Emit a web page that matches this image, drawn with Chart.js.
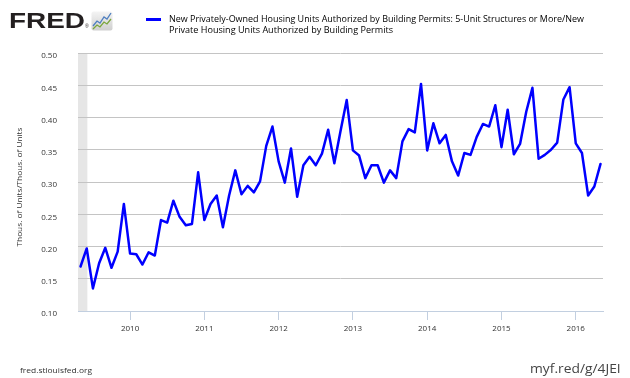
<!DOCTYPE html>
<html>
<head>
<meta charset="utf-8">
<script src="https://cdn.jsdelivr.net/npm/chart.js@4.4.1/dist/chart.umd.min.js"></script>
<style>
  html, body { margin: 0; padding: 0; background: #fff; }
  #wrap { position: relative; width: 630px; height: 378px; overflow: hidden; background: #fff; }
  #c { position: absolute; left: 0; top: 0; }
  .t { position: absolute; white-space: nowrap; line-height: 1; transform-origin: 0 0; }
</style>
</head>
<body>
<div id="wrap">
  <canvas id="c" width="630" height="378"></canvas>
  <div class="t fit" id="logo" data-w="76" style="left:9px; top:9.7px; font-family:'Liberation Sans', Arial, sans-serif; font-weight:bold; font-size:22px; color:#231f20;">FRED</div>
  <div class="t" style="left:85px; top:24px; font-family:'Liberation Sans', Arial, sans-serif; font-size:5px; color:#231f20;">®</div>
  <svg style="position:absolute; left:90.5px; top:10.5px;" width="22" height="20" viewBox="0 0 22 20">
    <defs>
      <linearGradient id="g" x1="0" y1="0" x2="0" y2="1">
        <stop offset="0" stop-color="#f4f4f4"/>
        <stop offset="1" stop-color="#cfcfcf"/>
      </linearGradient>
    </defs>
    <rect x="0.5" y="0.5" width="21" height="19" rx="2" fill="url(#g)"/>
    <polyline points="2,15 6,10 9,12 13,6 16,8 20,2" fill="none" stroke="#4f7fc0" stroke-width="1.3"/>
    <polyline points="2,18 6,14 9,16 13,11 16,13 20,8" fill="none" stroke="#7aa63c" stroke-width="1.3"/>
  </svg>
  <div style="position:absolute; left:146px; top:18px; width:15px; height:2.5px; background:#0000ff;"></div>
  <div class="t fit" data-w="415" style="left:169.3px; top:13.9px; font-family:'Open Sans', sans-serif; font-size:9.5px; color:#000;">New Privately-Owned Housing Units Authorized by Building Permits: 5-Unit Structures or More/New</div>
  <div class="t fit" data-w="224" style="left:169.3px; top:24.6px; font-family:'Open Sans', sans-serif; font-size:9.5px; color:#000;">Private Housing Units Authorized by Building Permits</div>
  <div class="t fit" data-w="72" style="left:20px; top:366.4px; font-family:'Open Sans', sans-serif; font-size:8px; color:#333;">fred.stlouisfed.org</div>
  <div class="t fit" data-w="90.7" style="left:530px; top:362.6px; font-family:'Open Sans', sans-serif; font-size:12px; color:#444;">myf.red/g/4JEI</div>
</div>
<script>
// ---- data ----
const months = [
  '2009-05','2009-06','2009-07','2009-08','2009-09','2009-10','2009-11','2009-12',
  '2010-01','2010-02','2010-03','2010-04','2010-05','2010-06','2010-07','2010-08','2010-09','2010-10','2010-11','2010-12',
  '2011-01','2011-02','2011-03','2011-04','2011-05','2011-06','2011-07','2011-08','2011-09','2011-10','2011-11','2011-12',
  '2012-01','2012-02','2012-03','2012-04','2012-05','2012-06','2012-07','2012-08','2012-09','2012-10','2012-11','2012-12',
  '2013-01','2013-02','2013-03','2013-04','2013-05','2013-06','2013-07','2013-08','2013-09','2013-10','2013-11','2013-12',
  '2014-01','2014-02','2014-03','2014-04','2014-05','2014-06','2014-07','2014-08','2014-09','2014-10','2014-11','2014-12',
  '2015-01','2015-02','2015-03','2015-04','2015-05','2015-06','2015-07','2015-08','2015-09','2015-10','2015-11','2015-12',
  '2016-01','2016-02','2016-03','2016-04','2016-05'
];
const ratioValues = [
  0.169, 0.197, 0.135, 0.174, 0.198, 0.167, 0.192, 0.266,
  0.189, 0.188, 0.172, 0.191, 0.186, 0.241, 0.237, 0.271, 0.246, 0.233, 0.235, 0.315,
  0.241, 0.266, 0.279, 0.230, 0.279, 0.318, 0.281, 0.294, 0.284, 0.301, 0.356, 0.386,
  0.332, 0.299, 0.352, 0.277, 0.326, 0.339, 0.326, 0.344, 0.381, 0.329, 0.379, 0.427,
  0.349, 0.341, 0.306, 0.326, 0.326, 0.299, 0.318, 0.306, 0.363, 0.382, 0.377, 0.452,
  0.349, 0.391, 0.360, 0.373, 0.332, 0.310, 0.345, 0.342, 0.370, 0.390, 0.386, 0.419,
  0.354, 0.412, 0.343, 0.359, 0.409, 0.446, 0.336, 0.342, 0.350, 0.361, 0.428, 0.447,
  0.360, 0.345, 0.279, 0.293, 0.328
];
const xTickLabels = ['2010','2011','2012','2013','2014','2015','2016'];
const yTickLabels = ['0.10','0.15','0.20','0.25','0.30','0.35','0.40','0.45','0.50'];
const yAxisTitle = 'Thous. of Units/Thous. of Units';
const recession = { start: '2009-04', endMonthIndex: -6.9 }; // shading through early June 2009

// month string -> months since Jan 2010
function monthIndex(s) {
  const [y, m] = s.split('-').map(Number);
  return (y - 2010) * 12 + (m - 1);
}
const points = months.map((d, i) => ({ x: monthIndex(d), y: ratioValues[i] }));
const xTickValues = xTickLabels.map(l => monthIndex(l + '-01'));
const yTickValues = yTickLabels.map(Number);

const tickFont = { family: "'Open Sans', sans-serif", size: 8 };

const bgPlugin = {
  id: 'bg',
  beforeDraw(chart) {
    const { ctx, chartArea, scales } = chart;
    const x0 = chartArea.left;
    const x1 = scales.x.getPixelForValue(recession.endMonthIndex);
    ctx.save();
    ctx.fillStyle = '#e6e6e6';
    ctx.fillRect(x0, chartArea.top, x1 - x0, chartArea.bottom - chartArea.top);
    ctx.restore();
  },
  afterDraw(chart) {
    const { ctx } = chart;
    ctx.save();
    ctx.font = "7.5px 'Open Sans', sans-serif";
    ctx.fillStyle = '#333';
    ctx.textAlign = 'center';
    ctx.textBaseline = 'middle';
    const w = ctx.measureText(yAxisTitle).width;
    ctx.translate(20, 187);
    ctx.rotate(-Math.PI / 2);
    ctx.scale(119 / w, 1);
    ctx.fillText(yAxisTitle, 0, 0);
    ctx.restore();
  }
};

new Chart(document.getElementById('c').getContext('2d'), {
  type: 'line',
  data: {
    datasets: [{
      label: 'New Privately-Owned Housing Units Authorized by Building Permits: 5-Unit Structures or More/New Private Housing Units Authorized by Building Permits',
      data: points,
      borderColor: '#0000ff',
      borderWidth: 2.5,
      borderJoinStyle: 'round',
      borderCapStyle: 'round',
      pointRadius: 0,
      tension: 0,
      fill: false
    }]
  },
  options: {
    responsive: false,
    animation: false,
    devicePixelRatio: 1,
    layout: { padding: { top: 53, right: 27, left: 0, bottom: 0 } },
    plugins: { legend: { display: false }, tooltip: { enabled: false } },
    scales: {
      x: {
        type: 'linear',
        min: -8.41,
        max: 76.4,
        afterBuildTicks: s => { s.ticks = xTickValues.map(v => ({ value: v })); },
        afterFit: s => { s.height = 67; },
        ticks: {
          autoSkip: false, maxRotation: 0, minRotation: 0,
          font: tickFont, color: '#333', padding: 4,
          callback: v => xTickLabels[xTickValues.indexOf(v)]
        },
        grid: { drawOnChartArea: false, drawTicks: true, tickLength: 9, color: '#c2cfe0', lineWidth: 1 },
        border: { display: true, color: '#c2cfe0', width: 1 }
      },
      y: {
        min: 0.1,
        max: 0.5,
        afterBuildTicks: s => { s.ticks = yTickValues.map(v => ({ value: v })); },
        afterFit: s => { s.width = 78; },
        ticks: {
          font: tickFont, color: '#333', padding: 21, labelOffset: 3,
          callback: v => yTickLabels[yTickValues.findIndex(t => Math.abs(t - v) < 1e-9)]
        },
        grid: {
          drawTicks: false, lineWidth: 1,
          color: c => (Math.abs(c.tick.value - 0.1) < 1e-9 ? 'rgba(0,0,0,0)' : '#c4c4c4')
        },
        border: { display: false }
      }
    }
  },
  plugins: [bgPlugin]
});

function fitAll() {
  document.querySelectorAll('.fit').forEach(el => {
    el.style.transform = 'none';
    const w = el.getBoundingClientRect().width;
    const target = parseFloat(el.dataset.w);
    if (w > 0) el.style.transform = 'scaleX(' + (target / w) + ')';
  });
}
fitAll();
if (document.fonts && document.fonts.ready) document.fonts.ready.then(fitAll);
</script>
</body>
</html>
